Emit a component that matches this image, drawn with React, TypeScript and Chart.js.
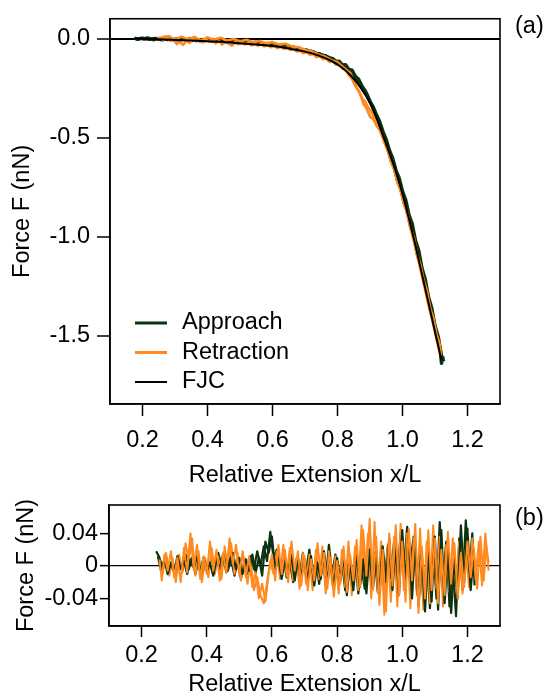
import React, { useEffect, useRef } from "react";
import { Chart, registerables } from "chart.js";

Chart.register(...registerables);

// ---------- data ----------
const seriesNames = ["Approach", "Retraction", "FJC"];
const approachColor = "#0c3210";
const retractionColor = "#ff8a1f";
const fjcColor = "#000000";

const xTickValues = [0.2, 0.4, 0.6, 0.8, 1.0, 1.2];
const xTickLabels = ["0.2", "0.4", "0.6", "0.8", "1.0", "1.2"];
const topYTickValues = [0, -0.5, -1.0, -1.5];
const topYTickLabels = ["0.0", "-0.5", "-1.0", "-1.5"];
const botYTickValues = [0.04, 0, -0.04];
const botYTickLabels = ["0.04", "0", "-0.04"];

// (a) force curves
const fjcX = [0.175, 0.25, 0.3, 0.35, 0.4, 0.45, 0.5, 0.55, 0.6, 0.65, 0.7, 0.74, 0.78, 0.81, 0.84, 0.87, 0.9, 0.92, 0.94, 0.96, 0.98, 1.0, 1.02, 1.04, 1.06, 1.08, 1.1, 1.12];
const fjcF = [0, -0.004, -0.007, -0.01, -0.014, -0.018, -0.024, -0.03, -0.038, -0.05, -0.066, -0.085, -0.112, -0.142, -0.185, -0.245, -0.325, -0.4, -0.49, -0.58, -0.675, -0.785, -0.91, -1.045, -1.19, -1.335, -1.48, -1.625];

const approachX = [0.175, 0.185, 0.195, 0.205, 0.215, 0.225, 0.235, 0.245, 0.255, 0.265, 0.275, 0.285, 0.295, 0.305, 0.315, 0.325, 0.335, 0.345, 0.355, 0.365, 0.375, 0.385, 0.395, 0.405, 0.415, 0.425, 0.435, 0.445, 0.455, 0.465, 0.475, 0.485, 0.495, 0.505, 0.515, 0.525, 0.535, 0.545, 0.555, 0.565, 0.575, 0.585, 0.595, 0.605, 0.615, 0.625, 0.635, 0.645, 0.655, 0.665, 0.675, 0.685, 0.695, 0.705, 0.715, 0.725, 0.735, 0.745, 0.755, 0.765, 0.775, 0.785, 0.795, 0.805, 0.815, 0.825, 0.835, 0.845, 0.855, 0.865, 0.875, 0.885, 0.895, 0.905, 0.915, 0.925, 0.935, 0.945, 0.955, 0.965, 0.975, 0.985, 0.995, 1.005, 1.015, 1.025, 1.035, 1.045, 1.055, 1.065, 1.075, 1.085, 1.095, 1.105, 1.115, 1.12, 1.125];
const approachF = [0.002, -0.004, 0.001, -0.003, 0.003, -0.002, -0.006, 0.0, -0.004, 0.002, -0.005, -0.001, -0.006, -0.002, -0.008, -0.003, -0.007, -0.002, -0.009, -0.004, -0.01, -0.005, -0.011, -0.006, -0.012, -0.008, -0.013, -0.009, -0.016, -0.011, -0.018, -0.012, -0.02, -0.015, -0.022, -0.016, -0.024, -0.019, -0.027, -0.021, -0.03, -0.025, -0.034, -0.028, -0.038, -0.033, -0.042, -0.037, -0.048, -0.043, -0.055, -0.05, -0.062, -0.057, -0.07, -0.066, -0.08, -0.076, -0.092, -0.088, -0.104, -0.1, -0.118, -0.114, -0.134, -0.132, -0.156, -0.16, -0.19, -0.205, -0.24, -0.262, -0.3, -0.335, -0.375, -0.418, -0.46, -0.515, -0.555, -0.615, -0.655, -0.72, -0.76, -0.83, -0.87, -0.95, -0.995, -1.085, -1.135, -1.215, -1.275, -1.365, -1.42, -1.505, -1.56, -1.64, -1.605];

const approachBX = [0.18, 0.2, 0.22, 0.24, 0.26, 0.28, 0.3, 0.32, 0.34, 0.36, 0.38, 0.4, 0.42, 0.44, 0.46, 0.48, 0.5, 0.52, 0.54, 0.56, 0.58, 0.6, 0.62, 0.64, 0.66, 0.68, 0.7, 0.72, 0.74, 0.76, 0.78, 0.8, 0.82, 0.84, 0.86, 0.87, 0.88, 0.89, 0.9, 0.91, 0.92, 0.93, 0.94, 0.95, 0.96, 0.97, 0.98, 0.99, 1.0, 1.01, 1.02, 1.03, 1.04, 1.05, 1.06, 1.07, 1.08, 1.09, 1.1, 1.11, 1.12, 1.127];
const approachBF = [-0.003, 0.002, -0.004, 0.001, -0.006, 0.0, -0.008, -0.002, -0.009, -0.004, -0.012, -0.006, -0.014, -0.008, -0.017, -0.012, -0.022, -0.016, -0.026, -0.022, -0.032, -0.028, -0.04, -0.036, -0.05, -0.048, -0.062, -0.064, -0.078, -0.086, -0.1, -0.118, -0.136, -0.168, -0.205, -0.225, -0.262, -0.28, -0.318, -0.345, -0.385, -0.42, -0.47, -0.51, -0.565, -0.605, -0.665, -0.705, -0.77, -0.815, -0.89, -0.935, -1.02, -1.07, -1.16, -1.215, -1.305, -1.36, -1.45, -1.505, -1.6, -1.63];

const retractionAX = [0.245, 0.255, 0.265, 0.275, 0.285, 0.295, 0.305, 0.315, 0.325, 0.335, 0.345, 0.355, 0.365, 0.375, 0.385, 0.395, 0.405, 0.415, 0.425, 0.435, 0.445, 0.455, 0.465, 0.475, 0.485, 0.495, 0.505, 0.515, 0.525, 0.535, 0.545, 0.555, 0.565, 0.575, 0.585, 0.595, 0.605, 0.615, 0.625, 0.635, 0.645, 0.655, 0.665, 0.675, 0.685, 0.695, 0.705, 0.715, 0.725, 0.735, 0.745, 0.755, 0.765, 0.775, 0.785, 0.795, 0.805, 0.815, 0.825, 0.835, 0.845, 0.855, 0.865, 0.875, 0.885, 0.895, 0.905, 0.915, 0.925, 0.935, 0.945, 0.955, 0.965, 0.975, 0.985, 0.995, 1.005, 1.015, 1.025, 1.035, 1.045, 1.055, 1.065, 1.075, 1.085, 1.095, 1.105, 1.115, 1.118];
const retractionAF = [-0.002, 0.006, -0.008, 0.004, -0.012, -0.004, -0.028, -0.018, -0.032, -0.01, -0.022, 0.002, -0.015, -0.006, -0.02, -0.004, -0.016, -0.008, -0.024, -0.012, -0.03, -0.014, -0.026, -0.036, -0.018, -0.028, -0.016, -0.03, -0.02, -0.034, -0.022, -0.036, -0.026, -0.04, -0.03, -0.044, -0.036, -0.048, -0.04, -0.052, -0.046, -0.058, -0.052, -0.066, -0.06, -0.074, -0.068, -0.082, -0.078, -0.094, -0.088, -0.104, -0.1, -0.118, -0.114, -0.132, -0.13, -0.15, -0.158, -0.185, -0.205, -0.24, -0.262, -0.3, -0.318, -0.35, -0.372, -0.405, -0.44, -0.475, -0.525, -0.565, -0.625, -0.66, -0.73, -0.768, -0.84, -0.88, -0.96, -1.005, -1.09, -1.14, -1.22, -1.27, -1.36, -1.41, -1.495, -1.545, -1.6];

const retractionBX = [0.26, 0.28, 0.3, 0.32, 0.34, 0.36, 0.38, 0.4, 0.42, 0.44, 0.46, 0.48, 0.5, 0.52, 0.54, 0.56, 0.58, 0.6, 0.62, 0.64, 0.66, 0.68, 0.7, 0.72, 0.74, 0.76, 0.78, 0.8, 0.82, 0.84, 0.85, 0.86, 0.87, 0.88, 0.89, 0.9, 0.91, 0.92, 0.93, 0.94, 0.96, 0.98, 1.0, 1.02, 1.04, 1.06, 1.08, 1.1, 1.115];
const retractionBF = [0.008, 0.012, -0.006, 0.01, -0.004, 0.008, -0.01, 0.006, -0.006, 0.004, -0.01, -0.002, -0.014, -0.006, -0.018, -0.012, -0.024, -0.018, -0.03, -0.026, -0.04, -0.044, -0.058, -0.064, -0.08, -0.09, -0.108, -0.12, -0.148, -0.175, -0.215, -0.25, -0.28, -0.33, -0.355, -0.395, -0.405, -0.44, -0.462, -0.505, -0.59, -0.69, -0.8, -0.925, -1.06, -1.2, -1.345, -1.48, -1.59];

// (b) residuals
const approachResX = [0.245, 0.255, 0.265, 0.275, 0.285, 0.295, 0.305, 0.315, 0.325, 0.335, 0.345, 0.355, 0.365, 0.375, 0.385, 0.395, 0.405, 0.415, 0.425, 0.435, 0.445, 0.455, 0.465, 0.475, 0.485, 0.495, 0.505, 0.515, 0.525, 0.535, 0.545, 0.555, 0.565, 0.575, 0.585, 0.595, 0.605, 0.615, 0.625, 0.635, 0.645, 0.655, 0.665, 0.675, 0.685, 0.695, 0.705, 0.715, 0.725, 0.735, 0.745, 0.755, 0.765, 0.775, 0.785, 0.795, 0.805, 0.815, 0.825, 0.835, 0.845, 0.855, 0.865, 0.875, 0.885, 0.895, 0.905, 0.915, 0.925, 0.935, 0.945, 0.955, 0.965, 0.975, 0.985, 0.995, 1.005, 1.015, 1.025, 1.035, 1.045, 1.055, 1.065, 1.075, 1.085, 1.095, 1.105, 1.115, 1.125, 1.135, 1.145, 1.155, 1.165, 1.175, 1.185, 1.195, 1.205, 1.215, 1.222];
const approachRes = [0.018, 0.01, -0.004, 0.012, -0.008, 0.006, -0.012, 0.008, -0.006, 0.014, -0.004, 0.01, -0.01, 0.006, -0.012, 0.004, -0.008, 0.012, -0.004, 0.016, 0.002, 0.01, -0.006, 0.008, -0.012, 0.006, -0.016, 0.004, -0.01, 0.012, -0.004, 0.018, 0.0, 0.024, 0.006, 0.042, 0.01, 0.02, -0.008, 0.012, -0.014, 0.006, -0.02, 0.004, -0.012, 0.016, -0.006, 0.02, -0.016, 0.01, -0.022, 0.008, -0.018, 0.026, -0.01, 0.014, -0.026, 0.006, -0.03, 0.002, -0.024, 0.012, -0.034, -0.004, -0.028, 0.01, -0.022, 0.016, -0.032, 0.008, -0.026, 0.022, -0.014, 0.03, -0.02, 0.04, -0.01, 0.048, 0.004, 0.036, -0.03, 0.02, -0.046, 0.01, -0.052, 0.026, -0.04, 0.054, -0.02, 0.03, -0.05, 0.004, -0.062, 0.034, -0.03, 0.056, -0.012, 0.04, -0.024];

const approachRes2X = [0.25, 0.26, 0.27, 0.28, 0.29, 0.3, 0.31, 0.32, 0.33, 0.34, 0.35, 0.36, 0.37, 0.38, 0.39, 0.4, 0.41, 0.42, 0.43, 0.44, 0.45, 0.46, 0.47, 0.48, 0.49, 0.5, 0.51, 0.52, 0.53, 0.54, 0.55, 0.56, 0.57, 0.58, 0.59, 0.6, 0.61, 0.62, 0.63, 0.64, 0.65, 0.66, 0.67, 0.68, 0.69, 0.7, 0.71, 0.72, 0.73, 0.74, 0.75, 0.76, 0.77, 0.78, 0.79, 0.8, 0.81, 0.82, 0.83, 0.84, 0.85, 0.86, 0.87, 0.88, 0.89, 0.9, 0.91, 0.92, 0.93, 0.94, 0.95, 0.96, 0.97, 0.98, 0.99, 1.0, 1.01, 1.02, 1.03, 1.04, 1.05, 1.06, 1.07, 1.08, 1.09, 1.1, 1.11, 1.12, 1.13, 1.14, 1.15, 1.16, 1.17, 1.18, 1.19, 1.2, 1.21, 1.22];
const approachRes2 = [0.012, -0.006, 0.008, -0.01, 0.004, -0.008, 0.012, -0.004, 0.006, -0.01, 0.008, -0.002, 0.012, -0.008, 0.01, -0.006, 0.004, -0.012, 0.008, -0.004, 0.014, -0.008, 0.006, 0.016, -0.004, 0.01, -0.01, 0.008, -0.006, 0.014, -0.008, 0.01, -0.012, 0.03, 0.016, 0.036, -0.004, 0.012, -0.016, 0.008, -0.01, 0.014, -0.018, 0.01, -0.014, 0.008, -0.02, 0.012, -0.024, 0.004, -0.016, 0.018, -0.02, 0.006, -0.028, 0.01, -0.018, 0.014, -0.036, 0.006, -0.03, 0.018, -0.026, 0.008, -0.034, 0.02, -0.028, 0.012, -0.036, 0.024, -0.02, 0.034, -0.03, 0.026, -0.036, 0.044, -0.022, 0.038, -0.04, 0.03, -0.05, 0.014, -0.056, 0.02, -0.044, 0.036, -0.054, 0.044, -0.046, 0.02, -0.058, 0.01, -0.04, 0.05, -0.02, 0.046, -0.03, 0.02];

const retractionResX = [0.255, 0.262, 0.27, 0.28, 0.29, 0.3, 0.31, 0.32, 0.33, 0.34, 0.35, 0.36, 0.37, 0.38, 0.39, 0.4, 0.41, 0.42, 0.43, 0.44, 0.45, 0.46, 0.47, 0.48, 0.49, 0.5, 0.51, 0.52, 0.53, 0.54, 0.55, 0.56, 0.57, 0.58, 0.59, 0.6, 0.61, 0.62, 0.63, 0.64, 0.65, 0.66, 0.67, 0.68, 0.69, 0.7, 0.71, 0.72, 0.73, 0.74, 0.75, 0.76, 0.77, 0.78, 0.79, 0.8, 0.81, 0.82, 0.83, 0.84, 0.85, 0.86, 0.87, 0.88, 0.89, 0.9, 0.91, 0.92, 0.93, 0.94, 0.95, 0.96, 0.97, 0.98, 0.99, 1.0, 1.01, 1.02, 1.03, 1.04, 1.05, 1.06, 1.07, 1.08, 1.09, 1.1, 1.11, 1.12, 1.13, 1.14, 1.15, 1.16, 1.17, 1.18, 1.19, 1.2, 1.21, 1.22, 1.23, 1.24, 1.25, 1.258, 1.265];
const retractionRes = [0.008, -0.018, 0.014, -0.006, 0.018, -0.014, 0.01, -0.02, 0.022, -0.008, 0.04, -0.004, 0.026, -0.016, 0.012, -0.01, 0.03, -0.006, 0.02, -0.018, 0.016, -0.008, 0.034, 0.002, 0.026, -0.012, 0.018, -0.014, 0.012, -0.026, -0.008, -0.04, -0.022, -0.044, -0.01, 0.014, -0.018, 0.026, -0.01, 0.02, -0.02, 0.03, -0.006, 0.018, -0.024, 0.012, -0.03, 0.008, -0.018, 0.028, -0.012, 0.016, -0.028, 0.01, -0.038, 0.006, -0.022, 0.024, -0.032, 0.014, -0.018, 0.032, -0.026, 0.044, -0.012, 0.058, -0.03, 0.036, -0.048, 0.02, -0.056, 0.04, -0.024, 0.05, -0.036, 0.03, -0.044, 0.046, -0.018, 0.052, -0.058, 0.024, -0.04, 0.044, -0.03, 0.034, -0.046, 0.02, -0.036, 0.042, -0.022, 0.028, -0.04, 0.016, -0.026, 0.03, -0.014, 0.022, -0.028, 0.036, -0.018, 0.024, 0.004];

const retractionRes2X = [0.265, 0.275, 0.285, 0.295, 0.305, 0.315, 0.325, 0.335, 0.345, 0.355, 0.365, 0.375, 0.385, 0.395, 0.405, 0.415, 0.425, 0.435, 0.445, 0.455, 0.465, 0.475, 0.485, 0.495, 0.505, 0.515, 0.525, 0.535, 0.545, 0.555, 0.565, 0.575, 0.585, 0.595, 0.605, 0.615, 0.625, 0.635, 0.645, 0.655, 0.665, 0.675, 0.685, 0.695, 0.705, 0.715, 0.725, 0.735, 0.745, 0.755, 0.765, 0.775, 0.785, 0.795, 0.805, 0.815, 0.825, 0.835, 0.845, 0.855, 0.865, 0.875, 0.885, 0.895, 0.905, 0.915, 0.925, 0.935, 0.945, 0.955, 0.965, 0.975, 0.985, 0.995, 1.005, 1.015, 1.025, 1.035, 1.045, 1.055, 1.065, 1.075, 1.085, 1.095, 1.105, 1.115, 1.125, 1.135, 1.145, 1.155, 1.165, 1.175, 1.185, 1.195, 1.205, 1.215, 1.225, 1.235, 1.245, 1.255, 1.265];
const retractionRes2 = [-0.01, 0.016, -0.012, 0.01, -0.02, 0.014, -0.008, 0.028, 0.006, 0.034, -0.012, 0.018, -0.02, 0.01, -0.014, 0.022, -0.01, 0.012, -0.016, 0.024, -0.004, 0.028, -0.01, 0.016, -0.018, 0.01, -0.022, 0.006, -0.03, -0.014, -0.036, -0.046, -0.02, 0.006, -0.01, 0.018, -0.016, 0.026, -0.012, 0.022, -0.018, 0.01, -0.028, 0.016, -0.022, 0.014, -0.03, 0.02, -0.016, 0.024, -0.034, 0.018, -0.024, 0.012, -0.034, 0.02, -0.026, 0.03, -0.036, 0.024, -0.03, 0.05, -0.02, 0.04, -0.04, 0.054, -0.034, 0.03, -0.06, 0.026, -0.044, 0.036, -0.05, 0.052, -0.03, 0.04, -0.052, 0.034, -0.036, 0.046, -0.054, 0.03, -0.046, 0.05, -0.028, 0.036, -0.05, 0.026, -0.032, 0.034, -0.024, 0.03, -0.034, 0.02, -0.026, 0.034, -0.016, 0.03, -0.024, 0.04, -0.006];

// ---------- helpers ----------
const FONT = "'Liberation Sans', Arial, Helvetica, sans-serif";
const FONT_SIZE = 23.5;
const pts = (xs: number[], ys: number[]) => xs.map((x, i) => ({ x, y: ys[i] }));

const framePlugin = {
  id: "frame",
  afterDraw(chart: any, _args: any, opts: any) {
    const { ctx, chartArea } = chart;
    ctx.save();
    ctx.strokeStyle = "#000";
    ctx.lineWidth = opts.width || 1.5;
    ctx.strokeRect(chartArea.left, chartArea.top, chartArea.right - chartArea.left, chartArea.bottom - chartArea.top);
    ctx.restore();
  },
};

const panelLabelPlugin = {
  id: "panelLabel",
  afterDraw(chart: any, _args: any, opts: any) {
    const { ctx } = chart;
    ctx.save();
    ctx.fillStyle = "#000";
    ctx.font = `${FONT_SIZE}px ${FONT}`;
    ctx.textBaseline = "middle";
    ctx.textAlign = "left";
    ctx.fillText(opts.text, opts.x, opts.y);
    ctx.restore();
  },
};

const innerLegendPlugin = {
  id: "innerLegend",
  afterDraw(chart: any, _args: any, opts: any) {
    if (!opts.items) return;
    const { ctx } = chart;
    ctx.save();
    ctx.font = `${FONT_SIZE}px ${FONT}`;
    ctx.textBaseline = "middle";
    ctx.textAlign = "left";
    opts.items.forEach((it: any, i: number) => {
      const y = opts.y + i * opts.gap;
      ctx.strokeStyle = it.color;
      ctx.lineWidth = it.width;
      ctx.beginPath();
      ctx.moveTo(opts.x, y);
      ctx.lineTo(opts.x + opts.len, y);
      ctx.stroke();
      ctx.fillStyle = "#000";
      ctx.fillText(it.label, opts.x + opts.len + 15, y);
    });
    ctx.restore();
  },
};

function axisCommon() {
  return {
    font: { family: FONT, size: FONT_SIZE, lineHeight: 1 },
    color: "#000",
  };
}

function makeOptions(cfg: any) {
  return {
    responsive: false,
    animation: false,
    devicePixelRatio: 1,
    layout: { padding: { top: cfg.padTop, right: 46, bottom: 0, left: 0 } },
    plugins: {
      legend: { display: false },
      tooltip: { enabled: false },
      frame: { width: 1.6 },
      panelLabel: cfg.panelLabel,
      innerLegend: cfg.legend || {},
    },
    scales: {
      x: {
        type: "linear",
        min: 0.1,
        max: 1.3,
        afterFit(axis: any) {
          axis.height = cfg.xHeight;
        },
        afterBuildTicks(axis: any) {
          axis.ticks = xTickValues.map((v) => ({ value: v }));
        },
        ticks: {
          ...axisCommon(),
          padding: cfg.xTickPad,
          maxRotation: 0,
          autoSkip: false,
          callback: (_v: any, i: number) => xTickLabels[i],
        },
        grid: {
          drawOnChartArea: false,
          drawTicks: true,
          tickLength: cfg.xTickLen,
          tickColor: "#000",
          tickWidth: 1.5,
        },
        border: { display: true, color: "#000", width: 1.6 },
        title: {
          display: true,
          text: "Relative Extension x/L",
          ...axisCommon(),
          padding: { top: 0, bottom: cfg.xTitlePad },
        },
      },
      y: {
        type: "linear",
        min: cfg.yMin,
        max: cfg.yMax,
        afterFit(axis: any) {
          axis.width = cfg.yWidth;
        },
        afterBuildTicks(axis: any) {
          axis.ticks = cfg.yTicks.map((v: number) => ({ value: v }));
        },
        ticks: {
          ...axisCommon(),
          padding: cfg.yTickPad,
          autoSkip: false,
          callback: (_v: any, i: number) => cfg.yLabels[i],
        },
        grid: {
          drawOnChartArea: true,
          drawTicks: true,
          tickLength: cfg.yTickLen,
          tickColor: "#000",
          tickWidth: 1.5,
          lineWidth: cfg.zeroWidth,
          color: (c: any) => (c.tick && c.tick.value === 0 ? "#000" : "rgba(0,0,0,0)"),
        },
        border: { display: true, color: "#000", width: 1.6 },
        title: {
          display: true,
          text: "Force F (nN)",
          ...axisCommon(),
          padding: { top: cfg.yTitlePad, bottom: 0 },
        },
      },
    },
  };
}

function lineDs(label: string, data: any[], color: string, width: number, order: number, smooth = false) {
  return {
    label,
    data,
    borderColor: color,
    backgroundColor: color,
    borderWidth: width,
    pointRadius: 0,
    fill: false,
    order,
    tension: smooth ? 0.4 : 0,
    cubicInterpolationMode: smooth ? "monotone" : "default",
    borderJoinStyle: "round",
  };
}

export default function App() {
  const topRef = useRef<HTMLCanvasElement>(null);
  const botRef = useRef<HTMLCanvasElement>(null);

  useEffect(() => {
    const top = new Chart(topRef.current as HTMLCanvasElement, {
      type: "line",
      data: {
        datasets: [
          lineDs(seriesNames[2], pts(fjcX, fjcF), fjcColor, 2, 0, true),
          lineDs(seriesNames[1], pts(retractionAX, retractionAF), retractionColor, 2.6, 1),
          lineDs(seriesNames[1] + " 2", pts(retractionBX, retractionBF), retractionColor, 2.6, 2),
          lineDs(seriesNames[0], pts(approachX, approachF), approachColor, 3.4, 3),
          lineDs(seriesNames[0] + " 2", pts(approachBX, approachBF), approachColor, 3.4, 4),
        ] as any,
      },
      options: makeOptions({
        padTop: 15,
        xHeight: 86,
        yWidth: 110,
        xTickPad: 13,
        xTickLen: 12,
        xTitlePad: 3,
        yMin: -1.845,
        yMax: 0.1,
        yTicks: topYTickValues,
        yLabels: topYTickLabels,
        yTickPad: 7,
        yTickLen: 13,
        yTitlePad: 11,
        zeroWidth: 2,
        panelLabel: { text: "(a)", x: 515, y: 27 },
        legend: {
          x: 135,
          y: 323,
          gap: 29.5,
          len: 32,
          items: [
            { label: seriesNames[0], color: approachColor, width: 3 },
            { label: seriesNames[1], color: retractionColor, width: 3 },
            { label: seriesNames[2], color: fjcColor, width: 2 },
          ],
        },
      }) as any,
      plugins: [framePlugin, panelLabelPlugin, innerLegendPlugin],
    });

    const bot = new Chart(botRef.current as HTMLCanvasElement, {
      type: "line",
      data: {
        datasets: [
          lineDs(seriesNames[1], pts(retractionResX, retractionRes), retractionColor, 2, 0),
          lineDs(seriesNames[0] + " 2", pts(approachRes2X, approachRes2), approachColor, 2.2, 1),
          lineDs(seriesNames[1] + " 2", pts(retractionRes2X, retractionRes2), retractionColor, 2, 2),
          lineDs(seriesNames[0], pts(approachResX, approachRes), approachColor, 2.2, 3),
        ] as any,
      },
      options: makeOptions({
        padTop: 15,
        xHeight: 70,
        yWidth: 109,
        xTickPad: 7,
        xTickLen: 11,
        xTitlePad: 0,
        yMin: -0.074,
        yMax: 0.075,
        yTicks: botYTickValues,
        yLabels: botYTickLabels,
        yTickPad: 2,
        yTickLen: 9,
        yTitlePad: 15,
        zeroWidth: 1.3,
        panelLabel: { text: "(b)", x: 515, y: 29 },
      }) as any,
      plugins: [framePlugin, panelLabelPlugin],
    });

    return () => {
      top.destroy();
      bot.destroy();
    };
  }, []);

  return (
    <div style={{ position: "absolute", left: 0, top: 0, width: 546, height: 696, background: "#fff" }}>
      <canvas ref={topRef} width={546} height={490} style={{ display: "block", position: "absolute", left: 0, top: 0 }} />
      <canvas ref={botRef} width={546} height={206} style={{ display: "block", position: "absolute", left: 0, top: 490 }} />
    </div>
  );
}
